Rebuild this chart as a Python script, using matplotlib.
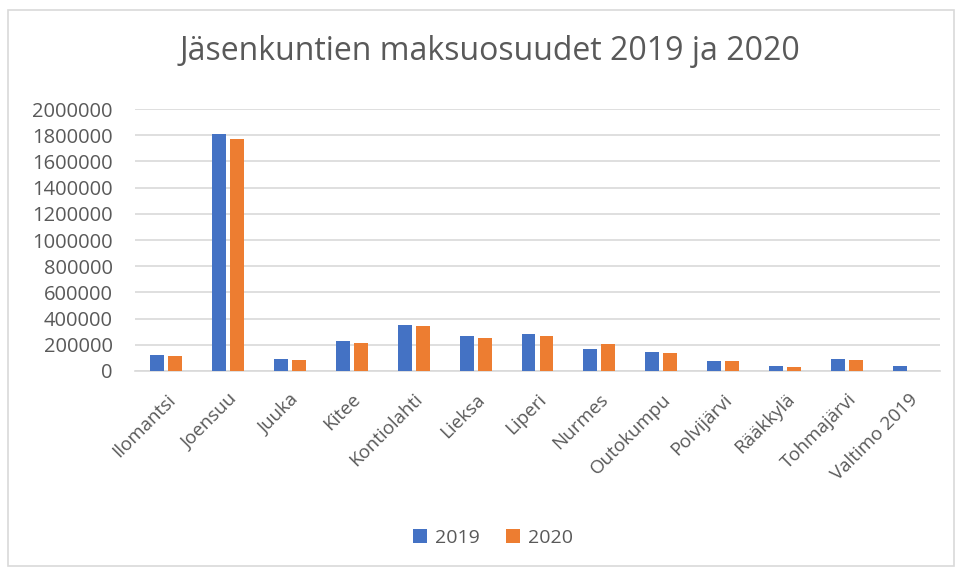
import matplotlib
matplotlib.use("Agg")
import matplotlib.pyplot as plt
import numpy as np
from matplotlib.patches import Rectangle

categories = ["Ilomantsi", "Joensuu", "Juuka", "Kitee", "Kontiolahti", "Lieksa",
              "Liperi", "Nurmes", "Outokumpu", "Polvijärvi", "Rääkkylä",
              "Tohmajärvi", "Valtimo 2019"]
values_2019 = [120000, 1811000, 92000, 227000, 350000, 270000,
               280000, 166000, 148000, 77000, 36000, 89000, 41000]
values_2020 = [112000, 1770000, 87000, 212000, 342000, 253000,
               269000, 204000, 138000, 74000, 31000, 87000, 0]
series_labels = ["2019", "2020"]
yticks = list(range(0, 2000001, 200000))

title = "Jäsenkuntien maksuosuudet 2019 ja 2020"

text_color = "#595959"
grid_color = "#D9D9D9"
blue = "#4472C4"
orange = "#ED7D31"

plt.rcParams['font.family'] = ['Open Sans', 'DejaVu Sans']

fig = plt.figure(figsize=(9.58, 5.69), dpi=100)
W, H = 958, 569
ax = fig.add_axes([135 / W, (H - 371) / H, (940 - 135) / W, (371 - 109) / H])

x = np.arange(len(categories))
bw = 0.225
off = 0.145
ax.bar(x - off, values_2019, width=bw, color=blue, label=series_labels[0], zorder=3)
ax.bar(x + off, values_2020, width=bw, color=orange, label=series_labels[1], zorder=3)

ax.set_xlim(-0.5, len(categories) - 0.5)
ax.set_ylim(0, 2000000)
ax.set_yticks(yticks)
ax.set_yticklabels([str(v) for v in yticks], fontsize=14.5, color=text_color)
ax.set_xticks(x)
ax.set_xticklabels(categories, rotation=45, ha="right", rotation_mode="anchor",
                   fontsize=13.5, color=text_color)
ax.tick_params(axis="both", length=0)
ax.tick_params(axis="y", pad=16)
ax.tick_params(axis="x", pad=14)
ax.grid(axis="y", color=grid_color, linewidth=1.2, zorder=0)
for s in ["top", "right", "left"]:
    ax.spines[s].set_visible(False)
ax.spines["bottom"].set_color(grid_color)
ax.spines["bottom"].set_linewidth(1.2)

fig.text(490 / W, 1 - 52 / H, title, ha="center", va="center", fontsize=23,
         color=text_color, family=['Liberation Sans Narrow', 'Open Sans', 'DejaVu Sans'])

leg = fig.legend(loc="center", bbox_to_anchor=(493 / W, 1 - 538 / H), ncol=2,
                 frameon=False, fontsize=14, handlelength=0.7, handleheight=0.7,
                 handletextpad=0.4, columnspacing=1.4)
for t in leg.get_texts():
    t.set_color(text_color)

fig.patches.append(Rectangle((8 / W, 1 - 566 / H), (954 - 8) / W, (566 - 10) / H,
                             transform=fig.transFigure, fill=False,
                             edgecolor=grid_color, linewidth=1.2))

fig.savefig("out.png", dpi=100, facecolor="white")
